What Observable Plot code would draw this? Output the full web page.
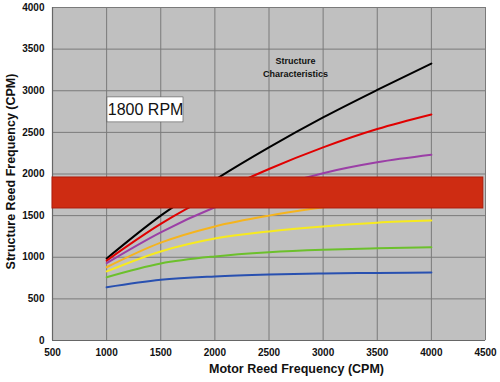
<!DOCTYPE html>
<html>
<head>
<meta charset="utf-8">
<script src="https://cdn.jsdelivr.net/npm/d3@7"></script>
<script src="https://cdn.jsdelivr.net/npm/@observablehq/plot@0.6"></script>
<style>
  body { margin: 0; background: #fff; }
  svg text { font-family: "Liberation Sans", Arial, sans-serif; }
</style>
</head>
<body>
<div id="chart"></div>
<script>
const motorCPM = [1000, 1500, 2000, 2500, 3000, 3500, 4000];
const blackSeries  = [985, 1500, 1930, 2320, 2680, 3010, 3327];
const redSeries    = [960, 1400, 1760, 2060, 2320, 2540, 2715];
const purpleSeries = [930, 1300, 1600, 1830, 2010, 2140, 2230];
const orangeSeries = [880, 1175, 1370, 1500, 1600, 1680, 1750];
const yellowSeries = [830, 1070, 1225, 1310, 1370, 1415, 1440];
const greenSeries  = [760, 925, 1010, 1060, 1090, 1108, 1120];
const blueSeries   = [640, 730, 770, 792, 805, 812, 817];
const seriesNames  = ["black", "red", "purple", "orange", "yellow", "green", "blue"];
const seriesColors = ["#000000", "#e00000", "#9b3fa6", "#f5b41e", "#f7ea1e", "#6cc02c", "#2850b0"];
const xTicks = [500, 1000, 1500, 2000, 2500, 3000, 3500, 4000, 4500];
const yTicks = [0, 500, 1000, 1500, 2000, 2500, 3000, 3500, 4000];
const bandLow = 1586, bandHigh = 1958;
const rpmLabel = "1800 RPM";
const structLabel = "Structure\nCharacteristics";
const xTitle = "Motor Reed Frequency (CPM)";
const yTitle = "Structure Reed Frequency (CPM)";

const allSeries = [blackSeries, redSeries, purpleSeries, orangeSeries, yellowSeries, greenSeries, blueSeries];
const rows = [];
allSeries.forEach((vals, i) => vals.forEach((v, j) => rows.push({series: seriesNames[i], x: motorCPM[j], y: v})));
const colorOf = Object.fromEntries(seriesNames.map((n, i) => [n, seriesColors[i]]));

const chart = Plot.plot({
  width: 500,
  height: 382,
  marginLeft: 52,
  marginRight: 15,
  marginTop: 7,
  marginBottom: 42,
  style: {fontFamily: "Liberation Sans, Arial, sans-serif", fontWeight: "bold", fontSize: "10px", background: "#fff"},
  x: {domain: [500, 4500]},
  y: {domain: [0, 4000]},
  marks: [
    Plot.frame({fill: "#c0c0c0", stroke: null}),
    Plot.gridX(xTicks, {stroke: "#7a7a7a", strokeOpacity: 1, strokeWidth: 1}),
    Plot.gridY(yTicks, {stroke: "#7a7a7a", strokeOpacity: 1, strokeWidth: 1}),
    Plot.ruleX([500], {stroke: "#666", strokeWidth: 1.2}),
    Plot.ruleY([0], {stroke: "#666", strokeWidth: 1.2}),
    Plot.line(rows, {
      x: "x", y: "y", z: "series",
      stroke: d => colorOf[d.series],
      strokeWidth: 2, curve: "monotone-x"
    }),
    Plot.rect([{x1: 500, x2: 4480, y1: bandLow, y2: bandHigh}], {
      x1: "x1", x2: "x2", y1: "y1", y2: "y2",
      fill: "#ce2c12", stroke: "#b01a08", strokeWidth: 1
    }),
    Plot.rect([{x1: 1008, x2: 1710, y1: 2620, y2: 2920}], {
      x1: "x1", x2: "x2", y1: "y1", y2: "y2",
      fill: "#ffffff", stroke: "#555", strokeWidth: 0.6
    }),
    Plot.text([rpmLabel], {x: 1360, y: 2770, text: d => d, fontSize: 16, fontWeight: "normal", fill: "#111"}),
    Plot.text([structLabel], {x: 2745, y: 3290, text: d => d, fontSize: 9, fontWeight: "bold", fill: "#111", lineHeight: 1.35}),
    Plot.axisX(xTicks, {tickSize: 0, tickPadding: 8, fontSize: 10, fontWeight: "bold", fill: "#111",
      tickFormat: d => String(d), label: null}),
    Plot.axisY(yTicks, {tickSize: 0, tickPadding: 8, fontSize: 10, fontWeight: "bold", fill: "#111",
      tickFormat: d => String(d), label: null}),
    Plot.text([xTitle], {x: 2754, frameAnchor: "bottom", dy: 32, text: d => d,
      fontSize: 12.5, fontWeight: "bold", fill: "#111"}),
    Plot.text([yTitle], {y: 2030, frameAnchor: "left", dx: -42, rotate: -90, textAnchor: "middle",
      lineAnchor: "middle", text: d => d, fontSize: 12.5, fontWeight: "bold", fill: "#111"})
  ]
});
document.getElementById("chart").appendChild(chart);
</script>
</body>
</html>
